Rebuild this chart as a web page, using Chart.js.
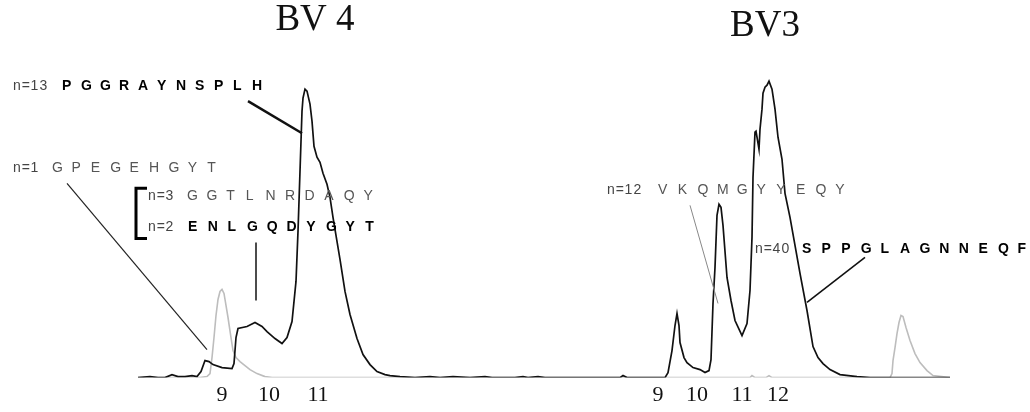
<!DOCTYPE html>
<html>
<head>
<meta charset="utf-8">
<script src="https://cdn.jsdelivr.net/npm/chart.js@4.4.1/dist/chart.umd.min.js"></script>
<style>
  html, body { margin: 0; padding: 0; background: #fff; }
  #wrap { width: 1030px; height: 412px; }
</style>
</head>
<body>
<div id="wrap"><canvas id="spectra" width="1030" height="412"></canvas></div>
<script>
// scan position along the run, and signal (0 = baseline)
const sampleScan = [138, 150, 158, 165, 172, 178, 185, 192, 197, 201, 205, 209, 213, 222, 232, 234, 236, 238, 247, 255,
  262, 267, 275, 282, 287, 292, 296, 298, 300, 301, 302, 303, 305, 307, 310, 312, 314, 317, 320, 323,
  327, 330, 333, 340, 345, 350, 357, 363, 370, 377, 385, 390, 400, 415, 430, 440, 453, 470, 485, 492,
  515, 523, 528, 538, 545, 620, 623, 627, 665, 668, 672, 675, 677, 679, 680, 684, 687, 693, 700, 705,
  709, 711, 713, 715, 717, 719, 721, 723, 727, 731, 735, 742, 747, 750, 752, 753, 755, 756, 757, 759,
  760, 762, 763, 765, 767, 769, 772, 775, 778, 782, 785, 790, 795, 800, 807, 813, 818, 823, 830, 840,
  857, 870, 950];
const sampleRfu = [0, 1, 0, 0, 3, 1, 1, 2, 1, 6, 17, 16, 13, 10, 9, 14, 40, 49, 51, 55,
  51, 46, 39, 34, 40, 56, 96, 146, 206, 236, 266, 279, 288, 286, 273, 256, 231, 220, 215, 204,
  193, 180, 160, 118, 86, 63, 39, 23, 13, 6, 3, 2, 1, 0, 1, 0, 1, 0, 1, 0,
  0, 1, 0, 1, 0, 0, 2, 0, 0, 5, 27, 52, 64, 52, 35, 20, 15, 10, 8, 5,
  7, 18, 74, 110, 162, 173, 170, 152, 100, 77, 57, 42, 54, 87, 140, 200, 245, 246, 240, 228,
  248, 268, 284, 290, 292, 296, 288, 268, 240, 218, 184, 160, 132, 104, 67, 31, 20, 14, 8, 3,
  1, 0, 0];

const standardScan = [138, 200, 207, 210, 212, 214, 216, 218, 220, 222, 224, 226, 228, 231, 233, 236, 240, 245, 250, 257,
  265, 272, 420, 660, 750, 752, 755, 766, 769, 772, 890, 892, 893, 895, 897, 899, 901, 903, 906, 910,
  915, 920, 927, 933, 950];
const standardRfu = [0, 0, 1, 4, 20, 40, 62, 78, 86, 88, 84, 72, 60, 40, 27, 20, 16, 12, 8, 4,
  1, 0, 0, 0, 0, 2, 0, 0, 2, 0, 0, 4, 17, 30, 44, 55, 62, 61, 50, 37,
  24, 15, 7, 2, 0];

// CDR3 length ticks under each family
const tickScans = [222, 269, 318, 658, 697, 742, 778];
const tickLabels = ['9', '10', '11', '9', '10', '11', '12'];

const panelTitles = ['BV 4', 'BV3'];

const cloneCounts = ['n=13', 'n=1', 'n=3', 'n=2', 'n=12', 'n=40'];
const cloneSeqs = ['PGGRAYNSPLH', 'GPEGEHGYT', 'GGTLNRDAQY', 'ENLGQDYGYT', 'VKQMGYYEQY', 'SPPGLAGNNEQF'];

// placement of titles and callouts, in axis units
const titleSpots = [{ x: 315, y: 357 }, { x: 765, y: 351 }];
const callouts = [
  { x: 13, y: 291, seqX: 62, step: 19.0, bold: true, line: [248, 276, 302, 244], lw: 2.5, lc: '#111' },
  { x: 13, y: 209, seqX: 52, step: 19.4, bold: false, line: [67, 194, 207, 28], lw: 1.2, lc: '#222' },
  { x: 148, y: 181, seqX: 187, step: 19.6, bold: false },
  { x: 148, y: 150, seqX: 188, step: 19.7, bold: true, line: [256, 135, 256, 77], lw: 1.5, lc: '#111' },
  { x: 607, y: 187, seqX: 658, step: 19.7, bold: false, line: [690, 172, 718, 74], lw: 1, lc: '#888' },
  { x: 755, y: 128, seqX: 802, step: 19.6, bold: true, line: [865, 120, 807, 75], lw: 1.6, lc: '#111' }
];
const bracket = { x0: 136, x1: 147, top: 189, bottom: 139 };

function spaced(ctx, text, x, y, step) {
  for (let i = 0; i < text.length; i++) {
    ctx.fillText(text[i], x + i * step, y);
  }
}

const annotate = {
  id: 'annotate',
  afterDatasetsDraw(chart) {
    const { ctx, scales: { x, y } } = chart;
    ctx.save();

    // family titles
    ctx.fillStyle = '#111';
    ctx.font = '37px "Liberation Serif", "Times New Roman", serif';
    ctx.textAlign = 'center';
    ctx.textBaseline = 'middle';
    panelTitles.forEach((t, i) => {
      ctx.fillText(t, x.getPixelForValue(titleSpots[i].x), y.getPixelForValue(titleSpots[i].y));
    });

    // clone callouts
    ctx.textAlign = 'left';
    callouts.forEach((c, i) => {
      const py = y.getPixelForValue(c.y);
      ctx.font = '14px "Liberation Sans", Arial, sans-serif';
      ctx.fillStyle = '#444';
      spaced(ctx, cloneCounts[i], x.getPixelForValue(c.x), py, 8.8);
      ctx.font = (c.bold ? 'bold ' : '') + '14px "Liberation Sans", Arial, sans-serif';
      ctx.fillStyle = c.bold ? '#000' : '#555';
      spaced(ctx, cloneSeqs[i], x.getPixelForValue(c.seqX), py, c.step);
      if (c.line) {
        ctx.beginPath();
        ctx.moveTo(x.getPixelForValue(c.line[0]), y.getPixelForValue(c.line[1]));
        ctx.lineTo(x.getPixelForValue(c.line[2]), y.getPixelForValue(c.line[3]));
        ctx.lineWidth = c.lw;
        ctx.strokeStyle = c.lc;
        ctx.stroke();
      }
    });

    // bracket grouping n=3 / n=2
    ctx.beginPath();
    ctx.moveTo(x.getPixelForValue(bracket.x1), y.getPixelForValue(bracket.top));
    ctx.lineTo(x.getPixelForValue(bracket.x0), y.getPixelForValue(bracket.top));
    ctx.lineTo(x.getPixelForValue(bracket.x0), y.getPixelForValue(bracket.bottom));
    ctx.lineTo(x.getPixelForValue(bracket.x1), y.getPixelForValue(bracket.bottom));
    ctx.lineWidth = 3;
    ctx.strokeStyle = '#000';
    ctx.stroke();

    ctx.restore();
  }
};

new Chart(document.getElementById('spectra').getContext('2d'), {
  type: 'line',
  data: {
    datasets: [{
      label: 'sample',
      data: sampleScan.map((s, i) => ({ x: s, y: sampleRfu[i] })),
      borderColor: '#111',
      borderWidth: 1.7,
      pointRadius: 0,
      tension: 0,
      fill: false
    }, {
      label: 'size standard',
      data: standardScan.map((s, i) => ({ x: s, y: standardRfu[i] })),
      borderColor: '#bdbdbd',
      borderWidth: 1.6,
      pointRadius: 0,
      tension: 0,
      fill: false
    }]
  },
  options: {
    responsive: false,
    animation: false,
    layout: { padding: { left: 0, right: 0, top: 0, bottom: 0 } },
    plugins: {
      legend: { display: false },
      tooltip: { enabled: false }
    },
    scales: {
      x: {
        type: 'linear',
        min: 0,
        max: 1030,
        grid: { display: false, drawTicks: false },
        border: { display: false },
        afterBuildTicks: axis => { axis.ticks = tickScans.map(v => ({ value: v })); },
        ticks: {
          autoSkip: false,
          maxRotation: 0,
          padding: 4,
          color: '#111',
          font: { family: '"Liberation Serif", "Times New Roman", serif', size: 22 },
          callback: (v, i) => tickLabels[i]
        }
      },
      y: { display: false, min: 0, max: 377 }
    }
  },
  plugins: [annotate]
});
</script>
</body>
</html>
